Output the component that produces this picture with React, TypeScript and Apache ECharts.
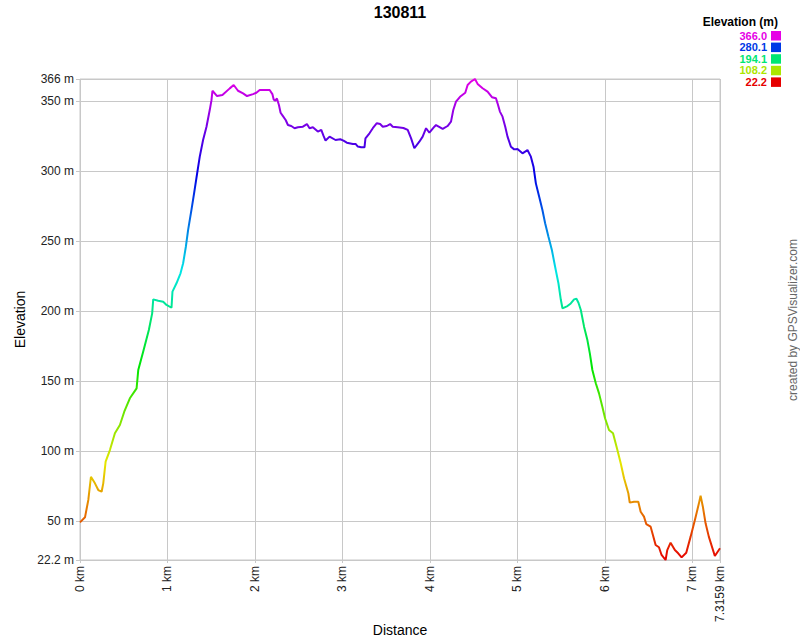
import React, { useEffect, useRef } from "react";
import * as echarts from "echarts";

const distanceKm = [
  0, 0.057, 0.095, 0.125, 0.171, 0.209, 0.247, 0.266, 0.293, 0.342, 0.399, 0.456, 0.506, 0.57, 0.647, 0.666, 0.722, 0.787, 0.825, 0.837,
  0.894, 0.951, 0.989, 1.046, 1.057, 1.103, 1.149, 1.179, 1.21, 1.236, 1.274, 1.304, 1.339, 1.369, 1.407, 1.446, 1.483, 1.503, 1.514, 1.567,
  1.628, 1.712, 1.757, 1.806, 1.864, 1.909, 1.978, 2.016, 2.054, 2.13, 2.168, 2.199, 2.214, 2.232, 2.251, 2.274, 2.293, 2.32, 2.351, 2.377,
  2.415, 2.453, 2.491, 2.548, 2.594, 2.624, 2.662, 2.719, 2.758, 2.784, 2.807, 2.853, 2.921, 2.975, 3.012, 3.05, 3.119, 3.15, 3.176, 3.214,
  3.252, 3.263, 3.309, 3.347, 3.393, 3.431, 3.461, 3.507, 3.545, 3.575, 3.632, 3.697, 3.746, 3.785, 3.822, 3.879, 3.917, 3.956, 3.994, 4.051,
  4.07, 4.146, 4.202, 4.241, 4.267, 4.298, 4.344, 4.404, 4.431, 4.469, 4.515, 4.545, 4.602, 4.659, 4.709, 4.755, 4.773, 4.8, 4.83, 4.861,
  4.887, 4.926, 4.963, 5.001, 5.058, 5.115, 5.154, 5.184, 5.211, 5.249, 5.286, 5.317, 5.355, 5.394, 5.431, 5.469, 5.497, 5.515, 5.572, 5.61,
  5.648, 5.675, 5.698, 5.725, 5.762, 5.8, 5.828, 5.857, 5.896, 5.933, 5.971, 6.002, 6.047, 6.093, 6.143, 6.181, 6.219, 6.268, 6.284, 6.333,
  6.382, 6.409, 6.447, 6.473, 6.523, 6.549, 6.58, 6.618, 6.648, 6.694, 6.713, 6.751, 6.8, 6.838, 6.877, 6.93, 6.98, 7.029, 7.075, 7.094,
  7.12, 7.151, 7.188, 7.257, 7.3159,
];

const elevationM = [
  49.1, 52.7, 65.1, 81.7, 77, 72.2, 71, 77, 92.5, 100.8, 112.8, 118.7, 128.2, 137.8, 144.9, 158, 171.1, 186.6, 198.5, 208.5,
  207.5, 206.8, 204.5, 202.5, 214, 220, 227.1, 234.3, 246.1, 258.1, 272.4, 284.3, 298.6, 310.5, 322.4, 331.9, 343.8, 350.9, 357.6, 353.8,
  354.5, 359.3, 361.7, 357.6, 355.7, 353.8, 355.2, 356.2, 358.1, 358.1, 358.1, 355.2, 351.4, 350.4, 352.1, 347.4, 341.9, 339.5, 336.7, 333.1,
  332.4, 330.8, 331.5, 331.9, 333.8, 330.8, 331.5, 328.4, 329.6, 325.3, 322, 324.8, 322.4, 322.9, 322, 320.5, 319.6, 319.6, 317.7, 317.2,
  317.2, 323.6, 327.2, 330.8, 334.4, 333.8, 331.9, 332.4, 333.8, 331.9, 331.5, 331, 329.6, 323.6, 316.5, 321.2, 324.8, 330.8, 327.6, 331.9,
  333.1, 330.3, 332.4, 335.5, 343.8, 349.8, 353.3, 356.2, 361.7, 364.1, 366, 362.5, 359.4, 357, 353, 352.2, 348.6, 342.7, 339.1, 331.9,
  324.8, 317.6, 315.7, 315.9, 312.9, 315.2, 310.5, 303.3, 291.4, 281.9, 272.4, 262.9, 253.3, 243.8, 231.8, 220, 208, 202.1, 203.7, 205.6,
  208.5, 208.9, 206.1, 200.9, 189, 179.4, 169.9, 158, 148.5, 141.3, 131.8, 123.5, 115.1, 112.8, 100.8, 91.3, 80.6, 69.9, 63.2, 63.9,
  63.9, 56.7, 53.2, 47.9, 46, 40.1, 32.9, 31.3, 25.8, 22.2, 29.3, 34.6, 29.3, 27, 24.1, 27.4, 38.9, 50.8, 62.7, 68.2,
  60.3, 48.4, 38.9, 25.1, 30.6,
];

const yTicks = [22.2, 50, 100, 150, 200, 250, 300, 350, 366];
const xTicks = [0, 1, 2, 3, 4, 5, 6, 7, 7.3159];
const legendValues = ["366.0", "280.1", "194.1", "108.2", "22.2"];
const legendColors = ["#e600e6", "#0039e6", "#00e673", "#ace600", "#e60000"];
const elevMin = 22.2;
const elevMax = 366;

const FONT = "'Liberation Sans', Arial, sans-serif";

export default function App() {
  const ref = useRef<HTMLDivElement>(null);

  useEffect(() => {
    if (!ref.current) return;
    const chart = echarts.init(ref.current, null, { renderer: "svg" });
    const data = distanceKm.map((d, i) => [d, elevationM[i]]);

    const legendGraphics: any[] = [
      {
        type: "text",
        x: 778,
        y: 22,
        style: {
          text: "Elevation (m)",
          font: `bold 12px ${FONT}`,
          fill: "#000",
          align: "right",
          verticalAlign: "middle",
        },
      },
    ];
    legendValues.forEach((v, i) => {
      const cy = 35.5 + i * 11.6;
      legendGraphics.push({
        type: "text",
        x: 767,
        y: cy,
        style: {
          text: v,
          font: `bold 11px ${FONT}`,
          lineHeight: 11,
          fill: legendColors[i],
          align: "right",
          verticalAlign: "middle",
        },
      });
      legendGraphics.push({
        type: "rect",
        shape: { x: 771, y: cy - 4.5, width: 10, height: 9.5 },
        style: { fill: legendColors[i] },
      });
    });
    legendGraphics.push({
      type: "text",
      x: 793,
      y: 320,
      rotation: Math.PI / 2,
      style: {
        text: "created by GPSVisualizer.com",
        font: `12px ${FONT}`,
        fill: "#666",
        align: "center",
        verticalAlign: "middle",
      },
    });

    chart.setOption({
      animation: false,
      backgroundColor: "#fff",
      textStyle: { fontFamily: FONT },
      title: {
        text: "130811",
        left: "center",
        top: 4,
        padding: 0,
        textStyle: { fontFamily: FONT, fontWeight: "bold", fontSize: 16, color: "#000" },
      },
      grid: {
        left: 80,
        right: 80,
        top: 79,
        bottom: 80,
        outerBoundsMode: "none",
        containLabel: false,
        show: true,
        borderColor: "#c8c8c8",
        borderWidth: 1,
      },
      visualMap: {
        show: false,
        type: "continuous",
        seriesIndex: 0,
        dimension: 1,
        min: elevMin,
        max: elevMax,
        inRange: {
          color: ["#e60000", "#e6e600", "#00e600", "#00e6e6", "#0000e6", "#e600e6"],
        },
      },
      xAxis: {
        type: "value",
        min: 0,
        max: 7.3159,
        name: "Distance",
        nameLocation: "middle",
        nameGap: 63,
        nameMoveOverlap: false,
        nameTextStyle: { fontFamily: FONT, fontSize: 14, color: "#000" },
        axisLine: { show: false },
        axisTick: { show: true, length: 3, lineStyle: { color: "#c8c8c8" }, customValues: xTicks },
        axisLabel: {
          customValues: xTicks,
          rotate: 90,
          fontFamily: FONT,
          fontSize: 12,
          color: "#222",
          margin: 6,
          formatter: (v: number) => `${v} km`,
        },
        splitLine: { show: true, lineStyle: { color: "#c8c8c8", width: 1 } },
      },
      yAxis: {
        type: "value",
        min: elevMin,
        max: elevMax,
        name: "Elevation",
        nameLocation: "middle",
        nameGap: 53,
        nameRotate: 90,
        nameMoveOverlap: false,
        nameTextStyle: { fontFamily: FONT, fontSize: 14, color: "#000" },
        axisLine: { show: false },
        axisTick: { show: true, length: 4, lineStyle: { color: "#c8c8c8" }, customValues: yTicks },
        axisLabel: {
          customValues: yTicks,
          fontFamily: FONT,
          fontSize: 12,
          color: "#222",
          margin: 6,
          formatter: (v: number) => `${v} m`,
        },
        splitLine: { show: true, lineStyle: { color: "#c8c8c8", width: 1 } },
      },
      graphic: legendGraphics,
      series: [
        {
          type: "line",
          data,
          showSymbol: false,
          symbol: "none",
          lineStyle: { width: 2 },
          z: 5,
        },
      ],
    });
    return () => chart.dispose();
  }, []);

  return (
    <div
      ref={ref}
      style={{ position: "absolute", left: 0, top: 0, width: 800, height: 640 }}
    />
  );
}
